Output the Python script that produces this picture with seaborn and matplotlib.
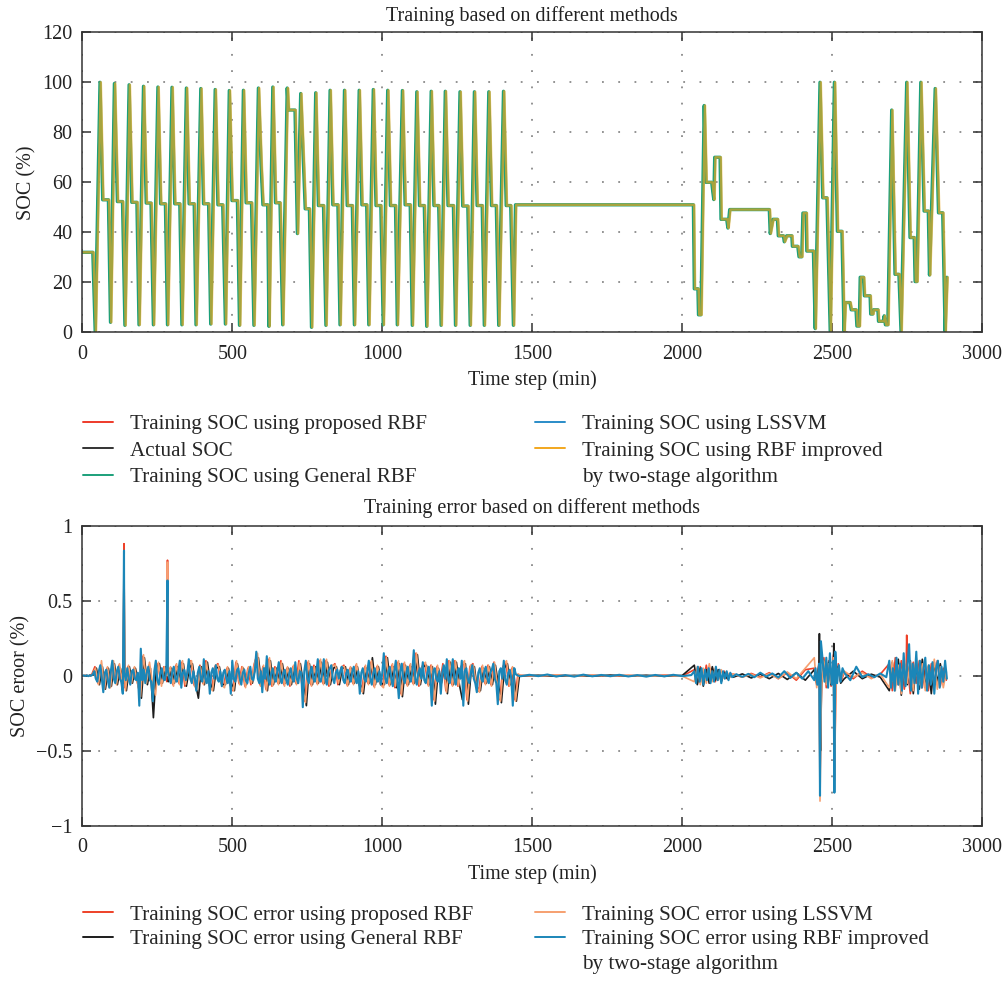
from __future__ import annotations

import matplotlib

matplotlib.use("Agg")
import matplotlib.pyplot as plt
import matplotlib.transforms as mtransforms
import numpy as np
import pandas as pd
import seaborn as sns
from matplotlib.lines import Line2D
from matplotlib.ticker import FuncFormatter

# ---------------------------------------------------------------------------
# SOC breakpoints (time in min, SOC in %)
# ---------------------------------------------------------------------------
soc_time = [
    0, 35, 43,
    59, 68, 87, 94,
    107, 117, 134, 142,
    156, 165, 182, 189,
    204, 213, 229, 237,
    252, 261, 277, 284,
    299, 308, 325, 332,
    347, 356, 373, 379,
    395, 404, 421, 428,
    443, 452, 468, 477,
    490, 499, 517, 524,
    537, 546, 564, 572,
    587, 596, 602, 618, 622,
    635, 644, 659, 668,
    683, 687, 709, 717, 728, 743, 757, 764,
    778, 787, 804, 812,
    826, 835, 852, 859,
    874, 883, 900, 907,
    923, 932, 948, 955,
    970, 979, 995, 1003,
    1018, 1027, 1044, 1050,
    1067, 1076, 1093, 1100,
    1115, 1124, 1140, 1148,
    1163, 1172, 1188, 1196,
    1210, 1219, 1237, 1244,
    1259, 1268, 1285, 1293,
    1307, 1316, 1333, 1340,
    1355, 1364, 1380, 1388,
    1404, 1413, 1428, 1437,
    1444, 2037,
    2040, 2052, 2054, 2062, 2073, 2079, 2098, 2102, 2105, 2108,
    2126, 2129, 2148, 2152, 2158, 2290, 2293, 2302, 2317, 2320,
    2337, 2340, 2348, 2365, 2367, 2385, 2389, 2398, 2402, 2413,
    2415, 2437, 2443, 2459, 2468, 2482, 2493, 2507, 2517, 2532,
    2539, 2543, 2559, 2563, 2579, 2582, 2590, 2593, 2604, 2607,
    2626, 2628, 2635, 2637, 2652, 2654, 2670, 2673, 2677, 2685,
    2698, 2709, 2722, 2729, 2748, 2759, 2773, 2776, 2782, 2795,
    2806, 2820, 2824, 2843, 2854, 2868, 2876, 2882,
]
soc_value = [
    32, 32, 0,
    100, 53, 53, 4,
    99.5, 52.3, 52.3, 2.8,
    99, 52, 52, 3,
    98.4, 51.7, 51.7, 3,
    98.1, 51.4, 51.4, 3,
    98, 51.4, 51.4, 3,
    97.7, 51.4, 51.4, 3,
    97.5, 51.4, 51.4, 3.3,
    97.1, 51, 51, 3.3,
    96.7, 52.7, 52.7, 2.8,
    96.8, 51.8, 51.8, 2.8,
    97.7, 66.6, 51, 51, 2.4,
    98.1, 51.8, 51.8, 3,
    97.7, 88.9, 88.9, 39.5, 95.5, 49.4, 49.4, 2,
    95.8, 50.7, 50.7, 2.8,
    96.8, 51, 51, 3,
    96.8, 50.7, 50.7, 3,
    96.8, 51, 51, 3,
    97.1, 50.7, 50.7, 3,
    96.8, 50.7, 50.7, 3,
    96.7, 51, 51, 2.8,
    96.2, 50.7, 50.7, 2.4,
    96.4, 50.7, 50.7, 2.8,
    96.4, 50.7, 50.7, 2.8,
    96.2, 50.5, 50.5, 2.8,
    96.2, 50.7, 50.7, 2.8,
    96.2, 50.7, 50.7, 2.8,
    96.4, 50.7, 50.7, 2.8,
    51, 51,
    17.4, 17.4, 7, 7, 90.7, 60, 60, 55.8, 53.1, 70,
    70, 45.2, 45.2, 41.7, 49.1, 49.1, 39.5, 45.2, 45.2, 38.6,
    38.6, 36.2, 38.6, 38.6, 34.4, 34.4, 30.2, 30.2, 47.7, 47.7,
    32.5, 32.5, 1.5, 100, 53.8, 53.8, 0.5, 100, 40.4, 40.4,
    0.5, 11.9, 11.9, 9, 9, 2.5, 2.5, 22, 22, 14.6,
    14.6, 7.3, 7.3, 9, 9, 4.4, 4.4, 6.6, 3, 3,
    88.9, 23.2, 23.2, 0.5, 100, 37.9, 37.9, 20.3, 20.3, 100,
    48.5, 48.5, 22.9, 97.5, 47.8, 47.8, 0.5, 22,
]

# the four trained models overlap the measured SOC at this scale
soc_labels = [
    "Training SOC using proposed RBF",
    "Actual SOC",
    "Training SOC using General RBF",
    "Training SOC using LSSVM",
    "Training SOC using RBF improved",
]
soc_colors = ["#ee3a2a", "#333333", "#1ba07a", "#2a8cc8", "#f2a71e"]

# ---------------------------------------------------------------------------
# Training errors (%), piecewise sampled blocks: start, step, values
# ---------------------------------------------------------------------------
blue_starts = [0, 1460, 2040, 2180, 2444, 2540, 2690]
blue_steps = [5, 30, 6, 20, 6, 20, 6]
blue_err = [
    [0.0, 0.002, -0.002, 0.003, -0.003, 0.002, 0.0, 0.01, 0.03, -0.02,
     -0.04, 0.03, 0.07, -0.02, -0.11, 0.02, 0.04, -0.03, -0.08, 0.03,
     0.1, -0.02, -0.05, 0.03, 0.06, -0.02, -0.04, -0.12, 0.02, -0.03,
     0.05, -0.02, -0.06, 0.03, 0.04, -0.02, -0.03, 0.02, -0.2, 0.18,
     -0.03, 0.04, -0.05, 0.02, 0.06, -0.03, -0.04, -0.17, 0.03, 0.1,
     -0.03, -0.06, 0.02, 0.05, -0.02, -0.03, 0.03, 0.04, -0.02, -0.05,
     0.03, 0.06, -0.02, -0.04, 0.03, 0.1, -0.08, 0.02, 0.04, -0.03,
     0.02, 0.11, -0.02, -0.05, 0.03, -0.02, -0.1, 0.02, 0.06, -0.02,
     -0.04, 0.11, -0.02, -0.05, 0.03, -0.12, 0.02, 0.05, -0.02, 0.07,
     -0.02, -0.04, 0.03, -0.07, 0.02, 0.04, -0.02, -0.05, 0.03, -0.12,
     0.1, -0.02, -0.04, 0.03, 0.05, -0.02, -0.06, 0.02, 0.04, -0.03,
     -0.05, 0.02, 0.06, -0.02, -0.03, 0.03, 0.16, -0.02, -0.05, 0.03,
     -0.11, 0.05, -0.02, 0.13, -0.03, -0.06, 0.02, 0.05, -0.02, -0.04,
     0.03, 0.09, -0.02, -0.05, 0.02, 0.04, -0.03, -0.06, 0.02, 0.05,
     -0.02, -0.04, 0.09, -0.02, -0.05, 0.03, 0.02, -0.21, 0.03, 0.1,
     -0.02, -0.05, 0.03, 0.06, -0.02, -0.04, 0.02, 0.11, -0.03, -0.04,
     0.02, 0.11, -0.02, -0.06, 0.03, 0.05, 0.07, -0.02, -0.05, 0.02,
     0.04, -0.02, 0.03, 0.06, -0.03, -0.05, 0.02, 0.04, -0.02, -0.04,
     0.03, 0.06, -0.02, -0.05, 0.03, -0.12, 0.02, 0.05, -0.02, -0.04,
     0.03, 0.1, -0.02, -0.06, 0.02, 0.05, -0.02, -0.04, 0.03, -0.06,
     0.02, 0.15, -0.02, -0.05, 0.03, 0.06, -0.02, -0.07, 0.03, 0.1,
     -0.02, -0.15, 0.03, 0.08, -0.02, -0.05, 0.02, 0.06, -0.02, -0.04,
     0.03, 0.17, -0.02, -0.06, 0.02, 0.05, -0.02, 0.09, -0.03, -0.05,
     0.02, 0.06, -0.02, -0.2, 0.03, 0.05, -0.02, -0.04, 0.03, -0.12,
     0.02, 0.07, -0.02, 0.11, -0.03, -0.05, 0.02, 0.11, -0.02, -0.06,
     0.03, 0.05, -0.02, 0.1, -0.2, 0.03, 0.05, -0.02, -0.05, 0.02,
     0.07, -0.02, -0.05, -0.11, 0.02, 0.05, -0.02, -0.04, 0.03, 0.06,
     -0.02, -0.05, 0.02, 0.04, 0.08, -0.02, -0.05, -0.19, 0.03, 0.05,
     -0.02, 0.1, -0.03, -0.06, 0.02, 0.04, -0.02, -0.2, 0.05, 0.01,
     0.003],
    [-0.004, 0.006, -0.003, 0.008, -0.005, 0.004, -0.006, 0.007, -0.004, 0.005,
     -0.003, 0.006, -0.005, 0.004, -0.006, 0.005, -0.004, 0.006, -0.003, 0.004],
    [0.03, -0.05, 0.06, -0.04, 0.05, -0.06, 0.04, -0.03, 0.05, -0.05, 0.03,
     -0.04, 0.06, -0.03, 0.04, -0.05, 0.03, -0.02, 0.03, -0.03, 0.02, -0.01],
    [0.01, -0.008, 0.012, -0.01, 0.02, -0.006, 0.015, -0.012, 0.03, -0.015,
     0.02, -0.02, 0.03, -0.03],
    [0.05, -0.06, 0.08, 0.23, 0.1, -0.04, 0.12, -0.08, 0.15, -0.06, 0.1,
     0.16, -0.05, 0.07, -0.04, 0.05],
    [0.02, -0.03, 0.06, -0.01, 0.01, -0.01, 0.015, -0.01],
    [0.1, -0.08, 0.05, -0.1, 0.12, -0.06, 0.08, -0.1, 0.15, -0.07, 0.06,
     0.21, -0.1, 0.08, -0.05, 0.16, -0.12, 0.1, -0.08, 0.05, 0.12, -0.1,
     0.07, -0.06, 0.09, -0.12, 0.05, 0.1, -0.08, 0.06, -0.04, 0.1, -0.02],
]
blue_spikes = [(139, 0.834), (284, 0.635), (2459, -0.80), (2507, -0.78)]

other_steps = [10, 60, 10, 30, 8, 30, 10]

red_starts = [2, 1460, 2040, 2170, 2440, 2540, 2690]
red_err = [
    [0.0, 0.002, -0.002, 0.01, 0.06, -0.05, 0.05, -0.08, 0.05, -0.06,
     0.09, -0.05, 0.07, -0.06, -0.08, 0.06, -0.04, 0.05, -0.03, -0.12,
     0.13, -0.04, 0.07, -0.05, -0.12, 0.08, -0.05, 0.06, -0.04, 0.05,
     -0.06, 0.07, -0.05, 0.09, -0.07, 0.05, 0.1, -0.06, -0.08, 0.07,
     -0.05, 0.1, -0.06, -0.09, 0.06, 0.08, -0.05, -0.06, 0.05, -0.06,
     -0.1, 0.09, -0.05, 0.06, -0.07, 0.05, -0.06, 0.07, 0.14, -0.06,
     0.06, -0.09, 0.11, -0.07, 0.06, -0.05, 0.1, -0.06, 0.05, -0.07,
     0.06, -0.05, 0.1, -0.06, -0.17, 0.09, -0.06, 0.07, -0.05, 0.1,
     -0.05, 0.1, -0.07, 0.06, 0.08, -0.06, 0.05, 0.07, -0.06, 0.05,
     -0.05, 0.07, -0.06, -0.1, 0.06, -0.05, 0.09, -0.07, 0.06, -0.05,
     -0.07, 0.13, -0.06, 0.07, -0.08, 0.09, -0.12, 0.08, -0.06, 0.07,
     -0.05, 0.15, -0.07, 0.06, 0.08, -0.06, 0.07, -0.16, 0.06, -0.05,
     0.08, -0.1, 0.1, -0.06, 0.1, -0.07, 0.06, 0.09, -0.16, 0.06,
     0.08, -0.06, -0.1, 0.06, -0.05, 0.07, -0.06, 0.09, -0.06, -0.16,
     0.06, 0.09, -0.07, 0.05, -0.16, 0.01],
    [0.002, -0.003, 0.004, -0.002, 0.003, -0.004, 0.002, -0.003, 0.004, -0.002],
    [0.04, -0.05, 0.06, -0.04, 0.07, -0.05, 0.05, -0.04, 0.04, -0.03, 0.03,
     -0.02, 0.01],
    [0.01, -0.01, 0.015, -0.01, 0.02, -0.02, 0.02, -0.03, 0.04],
    [0.05, -0.06, 0.1, -0.05, 0.12, -0.08, 0.1, -0.07, 0.14, -0.05, 0.08, -0.04],
    [0.02, -0.02, 0.03, -0.01, 0.01],
    [0.08, -0.1, 0.12, -0.06, 0.1, -0.09, 0.07, -0.12, 0.09, -0.05, 0.1,
     -0.08, 0.06, -0.1, 0.08, -0.06, 0.1, -0.07, 0.05, -0.03],
]
red_spikes = [(137, 0.0), (139, 0.88), (141, 0.0), (283, 0.0), (284, 0.77),
              (286, 0.0), (2459, -0.7), (2507, -0.7), (2746, 0.0), (2748, 0.27)]

black_starts = [7, 1460, 2040, 2170, 2440, 2540, 2690]
black_err = [
    [0.0, -0.002, 0.003, 0.005, 0.05, -0.06, 0.06, -0.09, 0.05, -0.07,
     0.08, -0.06, 0.05, -0.05, -0.1, 0.06, -0.05, 0.05, -0.04, -0.15,
     0.12, -0.06, 0.05, -0.28, 0.05, 0.08, -0.05, 0.06, -0.04, 0.05,
     -0.05, 0.06, -0.05, 0.08, -0.07, 0.05, 0.08, -0.05, -0.15, 0.06,
     -0.06, 0.09, -0.05, -0.1, 0.05, 0.06, -0.06, -0.06, 0.05, -0.05,
     -0.1, 0.08, -0.05, 0.05, -0.06, 0.04, -0.05, 0.06, 0.12, -0.05,
     0.05, -0.1, 0.1, -0.06, 0.05, -0.05, 0.08, -0.05, 0.05, -0.06,
     0.05, -0.05, 0.08, -0.06, -0.2, 0.08, -0.06, 0.06, -0.05, 0.09,
     -0.05, 0.09, -0.06, 0.05, 0.06, -0.06, 0.05, 0.06, -0.06, 0.05,
     -0.05, 0.06, -0.06, -0.12, 0.05, -0.05, 0.12, -0.06, 0.06, -0.05,
     -0.06, 0.12, -0.06, 0.06, -0.08, 0.08, -0.14, 0.07, -0.06, 0.06,
     -0.05, 0.14, -0.06, 0.06, 0.07, -0.06, 0.06, -0.19, 0.05, -0.05,
     0.06, -0.12, 0.09, -0.06, 0.09, -0.06, -0.16, 0.08, -0.19, 0.05,
     0.06, -0.1, -0.1, 0.05, -0.05, 0.06, -0.06, 0.07, -0.06, -0.18,
     0.05, 0.08, -0.06, 0.05, -0.17, 0.0],
    [-0.002, 0.003, -0.004, 0.002, -0.003, 0.004, -0.002, 0.003, -0.004, 0.002],
    [0.07, -0.06, 0.05, -0.07, 0.04, -0.05, 0.06, -0.03, 0.04, -0.04, 0.02,
     -0.02, 0.01],
    [-0.01, 0.012, -0.015, 0.01, -0.02, 0.015, -0.025, 0.02, -0.03],
    [0.04, -0.05, 0.08, -0.06, 0.1, -0.05, 0.09, -0.06, 0.1, -0.04, 0.06, -0.05],
    [-0.02, 0.03, -0.02, 0.01, -0.01],
    [-0.1, 0.09, -0.07, 0.11, -0.13, 0.08, -0.06, 0.1, -0.12, 0.07, -0.09,
     0.11, -0.08, 0.06, -0.12, 0.09, -0.05, 0.08, -0.04, 0.02],
]
black_spikes = [(139, 0.8), (141, 0.01), (282, 0.0), (284, 0.62), (286, 0.0),
                (2457, 0.28), (2461, -0.5), (2505, 0.215)]

orange_starts = [4, 1460, 2040, 2170, 2440, 2540, 2690]
orange_err = [
    [0.0, 0.003, -0.003, 0.01, 0.05, -0.06, 0.1, -0.09, 0.06, -0.08,
     0.1, -0.06, 0.08, -0.05, -0.1, 0.07, -0.05, 0.06, -0.05, -0.14,
     0.14, -0.05, 0.09, -0.05, -0.13, 0.09, -0.07, 0.06, 0.757, 0.06,
     -0.07, 0.08, -0.06, 0.1, -0.06, 0.06, 0.1, -0.07, -0.09, 0.06,
     -0.06, 0.09, -0.07, -0.1, 0.07, 0.07, -0.06, -0.08, 0.06, -0.06,
     -0.1, 0.1, -0.06, 0.06, -0.08, 0.06, -0.05, 0.08, 0.15, -0.07,
     0.07, -0.1, 0.12, -0.07, 0.05, -0.06, 0.09, -0.07, 0.06, -0.06,
     0.07, -0.06, 0.09, -0.07, -0.18, 0.1, -0.07, 0.06, -0.06, 0.11,
     -0.06, 0.11, -0.06, 0.07, 0.07, -0.05, 0.06, 0.06, -0.07, 0.06,
     -0.06, 0.08, -0.05, -0.11, 0.07, -0.06, 0.1, -0.08, 0.07, -0.06,
     -0.08, 0.12, -0.07, 0.08, -0.07, 0.1, -0.13, 0.09, -0.07, 0.08,
     -0.06, 0.15, -0.06, 0.07, 0.09, -0.07, 0.07, -0.17, 0.07, -0.06,
     0.07, -0.11, 0.1, -0.07, 0.1, -0.07, 0.06, 0.1, -0.17, 0.07,
     0.07, -0.07, -0.11, 0.07, -0.06, 0.07, -0.07, 0.09, -0.07, -0.17,
     0.07, 0.1, -0.07, 0.06, -0.17, 0.01],
    [0.003, -0.002, 0.005, -0.003, 0.004, -0.002, 0.003, -0.004, 0.002, -0.003],
    [-0.04, 0.06, -0.06, 0.05, -0.05, 0.08, -0.04, 0.05, -0.03, 0.04, -0.02,
     0.02, -0.01],
    [0.012, -0.01, 0.01, -0.015, 0.015, -0.02, 0.025, -0.02, 0.05],
    [0.12, -0.08, 0.06, -0.07, 0.1, -0.06, 0.08, -0.05, 0.12, -0.06, 0.05, -0.03],
    [0.03, -0.01, 0.02, -0.02, 0.01],
    [-0.08, 0.1, -0.1, 0.07, -0.12, 0.1, -0.05, 0.09, -0.1, 0.12, -0.06,
     0.08, -0.1, 0.07, -0.05, 0.11, -0.09, 0.06, -0.08, 0.03],
]
orange_spikes = [(137, 0.0), (139, 0.8), (141, 0.0), (282, 0.0), (286, 0.0),
                 (2459, -0.836), (2507, -0.76)]

err_labels = [
    "Training SOC error using proposed RBF",
    "Training SOC error using General RBF",
    "Training SOC error using LSSVM",
    "Training SOC error using RBF improved",
]
err_colors = ["#ee4128", "#1c1c1c", "#f6a070", "#1b86b8"]

time_ticks = [0, 500, 1000, 1500, 2000, 2500, 3000]
soc_ticks = [0, 20, 40, 60, 80, 100, 120]
err_ticks = [-1, -0.5, 0, 0.5, 1]

W, H = 1006, 981
FS = 14.5
LEG_FS = 15.2


def _error_frame(starts, steps, blocks, spikes) -> pd.DataFrame:
    t = np.concatenate([s + d * np.arange(len(b)) for s, d, b in zip(starts, steps, blocks)])
    v = np.concatenate([np.asarray(b, dtype=float) for b in blocks])
    t = np.append(t, [p[0] for p in spikes])
    v = np.append(v, [p[1] for p in spikes])
    return pd.DataFrame({"time": t, "error": v}).sort_values("time", kind="stable")


def _style_axes(ax) -> None:
    ax.set_xlim(0, 3000)
    ax.set_xticks(time_ticks)
    ax.grid(True, color="#8a8a8a", linestyle=(0, (1, 8)), linewidth=1.3)
    ax.tick_params(direction="in", length=6.5, width=1.1, top=True, right=True,
                   color="#333333", labelcolor="#222222", labelsize=FS, pad=7)
    ax.tick_params(axis="x", pad=9)
    for sp in ax.spines.values():
        sp.set_color("#333333")
        sp.set_linewidth(1.1)
        sp.set_visible(True)
    if ax.get_legend() is not None:
        ax.get_legend().remove()


def _legend(fig, colors, labels, x_px, y_px, spacing):
    px = LEG_FS * 100 / 72
    handles = [Line2D([], [], color=c, lw=1.4) for c in colors]
    fig.legend(
        handles, labels, loc="upper left",
        bbox_to_anchor=(x_px / W, 1 - y_px / H), bbox_transform=fig.transFigure,
        frameon=False, fontsize=LEG_FS, borderpad=0, borderaxespad=0,
        handlelength=30 / px, handletextpad=17 / px, labelspacing=spacing,
    )


def main() -> None:
    sns.set_theme(style="ticks")
    plt.rcParams["font.family"] = ["Liberation Serif", "DejaVu Serif"]
    plt.rcParams["axes.unicode_minus"] = True

    fig = plt.figure(figsize=(W / 100, H / 100), dpi=100)
    ax1 = fig.add_axes([82.3 / W, 1 - 332.3 / H, 900 / W, 300 / H])
    ax2 = fig.add_axes([82.3 / W, 1 - 825.7 / H, 900 / W, 300 / H])

    # ---- upper panel: SOC (drawn so the improved RBF ends up on top) ----
    soc = pd.DataFrame({"time": soc_time, "soc": soc_value})
    draw_order = [0, 1, 3, 2, 4]
    widths = {0: 1.2, 1: 1.2, 3: 1.2, 2: 2.4, 4: 1.8}
    alphas = {0: 1.0, 1: 1.0, 3: 1.0, 2: 1.0, 4: 0.65}
    for i in draw_order:
        sns.lineplot(data=soc, x="time", y="soc", ax=ax1, color=soc_colors[i],
                     lw=widths[i], alpha=alphas[i], estimator=None, sort=False)
    shift = mtransforms.ScaledTranslation(0.8 / 100, 0, fig.dpi_scale_trans)
    ax1.get_lines()[-1].set_transform(ax1.transData + shift)
    _style_axes(ax1)
    ax1.set_ylim(0, 120)
    ax1.set_yticks(soc_ticks)
    ax1.set_title("Training based on different methods", fontsize=FS, pad=8, color="#222222")
    ax1.set_xlabel("Time step (min)", fontsize=FS, labelpad=5, color="#222222")
    ax1.set_ylabel("SOC (%)", fontsize=FS, labelpad=4, color="#222222")

    _legend(fig, soc_colors[:3], soc_labels[:3], 83, 414.5, 0.32)
    _legend(fig, [soc_colors[3], soc_colors[4], "none"],
            [soc_labels[3], soc_labels[4], "by two-stage algorithm"], 535, 414.5, 0.32)

    # ---- lower panel: errors ----
    frames = [
        _error_frame(red_starts, other_steps, red_err, red_spikes),
        _error_frame(black_starts, other_steps, black_err, black_spikes),
        _error_frame(orange_starts, other_steps, orange_err, orange_spikes),
        _error_frame(blue_starts, blue_steps, blue_err, blue_spikes),
    ]
    for df, color, lw in zip(frames, err_colors, [1.2, 1.2, 1.2, 1.5]):
        sns.lineplot(data=df, x="time", y="error", ax=ax2, color=color, lw=lw,
                     estimator=None, sort=False)
    _style_axes(ax2)
    ax2.set_ylim(-1, 1)
    ax2.set_yticks(err_ticks)
    ax2.yaxis.set_major_formatter(FuncFormatter(lambda v, _: f"{v:g}".replace("-", "\u2212")))
    ax2.set_title("Training error based on different methods", fontsize=FS, pad=9, color="#222222")
    ax2.set_xlabel("Time step (min)", fontsize=FS, labelpad=5, color="#222222")
    ax2.set_ylabel("SOC eroor (%)", fontsize=FS, labelpad=4, color="#222222")

    _legend(fig, [err_colors[0], err_colors[1], "none"],
            [err_labels[0], err_labels[1], ""], 83, 905, 0.22)
    _legend(fig, [err_colors[2], err_colors[3], "none"],
            [err_labels[2], err_labels[3], "by two-stage algorithm"], 535, 905, 0.22)

    fig.savefig("out.png", dpi=100)
    plt.close(fig)


if __name__ == "__main__":
    main()
